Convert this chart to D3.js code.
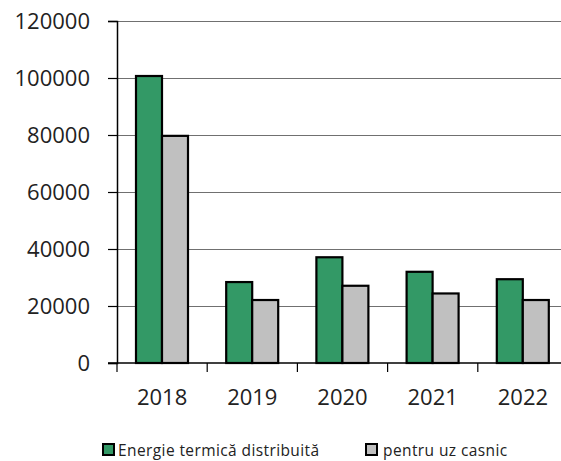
<!DOCTYPE html>
<html>
<head>
<meta charset="utf-8">
<script src="https://cdn.jsdelivr.net/npm/d3@7"></script>
<style>
  body { margin: 0; background: #fff; }
  svg { display: block; }
  .tick text { font-family: "Open Sans", sans-serif; fill: #222; }
  .legend text { font-family: "Open Sans", sans-serif; fill: #222; }
</style>
</head>
<body>
<div id="chart"></div>
<script>
// values
var years = ["2018", "2019", "2020", "2021", "2022"];
var energie = [100700, 28400, 37100, 32000, 29400];
var casnic = [79700, 22100, 27100, 24400, 22100];
var yTicks = [0, 20000, 40000, 60000, 80000, 100000, 120000];
var seriesNames = ["Energie termică distribuită", "pentru uz casnic"];
var seriesColors = ["#339966", "#c0c0c0"];

var W = 561, H = 461;
var plotLeft = 117, plotBottom = 363, plotTop = 21;

var svg = d3.select("#chart").append("svg")
    .attr("width", W).attr("height", H);

var y = d3.scaleLinear().domain([0, 120000]).range([plotBottom, plotTop]);
var x = d3.scaleBand().domain(years).range([plotLeft, plotLeft + 90.2 * years.length]);
var x1 = d3.scaleBand().domain(seriesNames).range([19, 71]);

// gridlines
svg.append("g").selectAll("line").data(yTicks.slice(1)).enter().append("line")
    .attr("x1", plotLeft).attr("x2", W)
    .attr("y1", function (d) { return Math.round(y(d)) + 0.5; })
    .attr("y2", function (d) { return Math.round(y(d)) + 0.5; })
    .style("stroke", "#707070").style("stroke-width", 1);

// bars
var rows = years.map(function (yr, i) {
    return {year: yr, vals: [energie[i], casnic[i]]};
});
var groups = svg.append("g").selectAll("g").data(rows).enter().append("g")
    .attr("transform", function (d) { return "translate(" + x(d.year) + ",0)"; });
groups.selectAll("rect").data(function (d) { return d.vals; }).enter().append("rect")
    .attr("x", function (d, i) { return x1(seriesNames[i]); })
    .attr("width", x1.bandwidth())
    .attr("y", function (d) { return y(d); })
    .attr("height", function (d) { return plotBottom - y(d); })
    .style("fill", function (d, i) { return seriesColors[i]; })
    .style("stroke", "#000").style("stroke-width", 2.2);

// y axis
var yAxis = svg.append("g").attr("transform", "translate(" + plotLeft + ",0)")
    .call(d3.axisLeft(y).tickValues(yTicks).tickSize(9).tickPadding(18).tickFormat(d3.format("d")));
yAxis.selectAll("text").style("font-size", "22px");
yAxis.select(".domain").style("stroke", "#000").style("stroke-width", 1.5);
yAxis.selectAll(".tick line").style("stroke", "#000").style("stroke-width", 1.2);

// x axis
var xAxis = svg.append("g").attr("transform", "translate(0," + plotBottom + ")");
xAxis.append("line").attr("x1", plotLeft - 9).attr("x2", W)
    .style("stroke", "#000").style("stroke-width", 1.5);
xAxis.selectAll(".xt").data(years).enter().append("line")
    .attr("class", "xt")
    .attr("x1", function (d) { return x(d); }).attr("x2", function (d) { return x(d); })
    .attr("y1", 0).attr("y2", 9)
    .style("stroke", "#000").style("stroke-width", 1.2);
xAxis.selectAll(".tick").data(years).enter().append("g").attr("class", "tick")
    .append("text")
    .attr("x", function (d) { return x(d) + x.bandwidth() / 2; })
    .attr("y", 42)
    .attr("text-anchor", "middle")
    .style("font-size", "22px")
    .text(function (d) { return d; });

// legend
var legendX = [103, 366];
var legend = svg.append("g").attr("class", "legend");
var items = legend.selectAll("g").data(seriesNames).enter().append("g")
    .attr("transform", function (d, i) { return "translate(" + legendX[i] + ",444)"; });
items.append("rect").attr("width", 11).attr("height", 11)
    .style("fill", function (d, i) { return seriesColors[i]; })
    .style("stroke", "#000").style("stroke-width", 2);
items.append("text").attr("x", function (d, i) { return i === 0 ? 15 : 17; }).attr("y", 11.5)
    .style("font-size", "15.5px").style("letter-spacing", "0.4px")
    .text(function (d) { return d; });
</script>
</body>
</html>
